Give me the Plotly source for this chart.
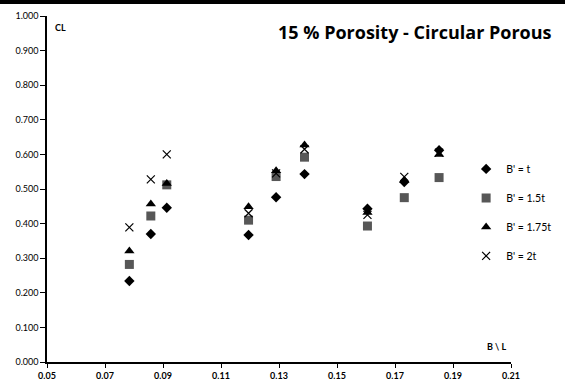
import plotly.graph_objects as go

# B/L ratios of the tested configurations
b_over_l = [0.0784, 0.0858, 0.0913, 0.1195, 0.1290, 0.1388, 0.1605, 0.1732, 0.1852]

# Lift coefficient CL for each porous-plate width B'
cl_t = [0.234, 0.370, 0.446, 0.367, 0.476, 0.543, 0.443, 0.520, 0.612]
cl_15t = [0.282, 0.422, 0.512, 0.410, 0.536, 0.592, 0.393, 0.475, 0.533]
cl_175t = [0.321, 0.457, 0.516, 0.449, 0.553, 0.627, 0.432, 0.525, 0.600]
cl_2t = [0.389, 0.528, 0.600, 0.430, 0.545, 0.615, 0.425, 0.535, 0.605]

series_names = ["B' = t", "B' = 1.5t", "B' = 1.75t", "B' = 2t"]
x_ticks = [0.05, 0.07, 0.09, 0.11, 0.13, 0.15, 0.17, 0.19, 0.21]
y_ticks = [0.0, 0.1, 0.2, 0.3, 0.4, 0.5, 0.6, 0.7, 0.8, 0.9, 1.0]

FONT = "Lato"

styles = [
    dict(symbol="diamond", size=8, color="black"),
    dict(symbol="square", size=9, color="#575757"),
    dict(symbol="triangle-up", size=9, color="black"),
    dict(symbol="x-thin-open", size=8, color="black", line=dict(width=1.2, color="black")),
]

fig = go.Figure()
for i, (name, ys) in enumerate(zip(series_names, [cl_t, cl_15t, cl_175t, cl_2t])):
    fig.add_trace(go.Scatter(
        x=b_over_l, y=ys, mode="markers", name=name,
        legendgroup=f"g{i}",
        marker=styles[i],
    ))

fig.update_layout(
    width=565, height=388,
    margin=dict(l=47, r=54, t=16, b=26, autoexpand=False),
    paper_bgcolor="white", plot_bgcolor="white",
    font=dict(family=FONT, size=9, color="black"),
    showlegend=True,
    legend=dict(
        xref="container", yref="container",
        x=0.825, xanchor="left", y=0.602, yanchor="top",
        font=dict(family=FONT, size=10.5, color="black"),
        tracegroupgap=10, itemwidth=30,
        bgcolor="rgba(0,0,0,0)",
    ),
    xaxis=dict(
        range=[0.05, 0.21], tickvals=x_ticks, tickformat=".2f",
        showgrid=False, zeroline=False, automargin=False,
        showline=True, linecolor="black", linewidth=1.5,
        ticks="outside", ticklen=4, tickcolor="black",
        tickfont=dict(family=FONT, size=9, color="black", weight="bold"),
    ),
    yaxis=dict(
        range=[0, 1], tickvals=y_ticks, tickformat=".3f",
        showgrid=False, zeroline=False, automargin=False,
        showline=True, linecolor="black", linewidth=1.5,
        ticks="outside", ticklen=5, tickcolor="black",
        tickfont=dict(family=FONT, size=9, color="black"),
    ),
)

# dark band along the top edge
fig.add_shape(type="rect", xref="paper", yref="paper",
              x0=-0.2, x1=1.2, y0=1.035, y1=1.06,
              fillcolor="black", line=dict(width=0), layer="above")

fig.add_annotation(text="<b>15 % Porosity - Circular Porous</b>",
                   xref="paper", yref="paper", x=0.494, y=0.955,
                   xanchor="left", yanchor="middle", showarrow=False,
                   font=dict(family="Open Sans", size=18, color="black"))
fig.add_annotation(text="<b>CL</b>", xref="paper", yref="paper",
                   x=0.012, y=0.968, xanchor="left", yanchor="middle",
                   showarrow=False, font=dict(family=FONT, size=9))
fig.add_annotation(text="<b>B \\ L</b>", xref="paper", yref="paper",
                   x=0.944, y=0.045, xanchor="left", yanchor="middle",
                   showarrow=False, font=dict(family=FONT, size=9))

fig.write_html("out.html")
